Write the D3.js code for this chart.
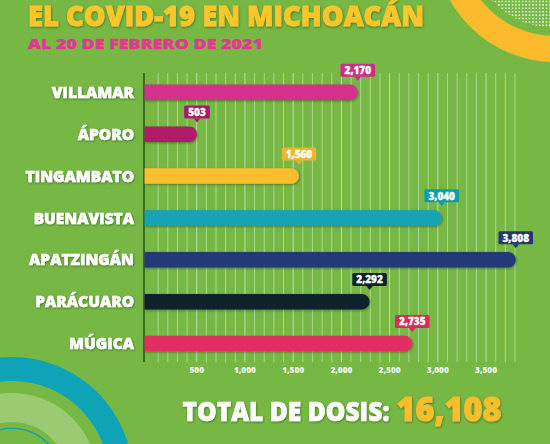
<!DOCTYPE html>
<html><head><meta charset="utf-8">
<script src="https://cdn.jsdelivr.net/npm/d3@7"></script>
<style>
html,body{margin:0;padding:0;background:#77b845;}
svg{display:block;}
text{font-family:"Open Sans","DejaVu Sans",sans-serif;font-weight:800;}
</style></head>
<body>
<svg id="c" width="550" height="444"></svg>
<script>
const categories = ["VILLAMAR","ÁPORO","TINGAMBATO","BUENAVISTA","APATZINGÁN","PARÁCUARO","MÚGICA"];
const values = [2170, 503, 1560, 3040, 3808, 2292, 2735];
const barColors = ["#d6308d","#b11b6b","#fbbf2e","#12a3b4","#233b78","#0d2329","#e22d62"];
const tickValues = [500, 1000, 1500, 2000, 2500, 3000, 3500];
const gridValues = d3.range(100, 3801, 100);
const titleText = "EL COVID-19 EN MICHOACÁN";
const subtitleText = "AL 20 DE FEBRERO DE 2021";
const totalLabel = "TOTAL DE DOSIS:";
const totalValue = 16108;

const W = 550, H = 444;
const svg = d3.select("#c");
const fmt = d3.format(",");

const defs = svg.append("defs");
const pat = defs.append("pattern").attr("id","dots").attr("patternUnits","userSpaceOnUse")
  .attr("width",3.4).attr("height",3.4);
pat.append("circle").attr("cx",1.7).attr("cy",1.7).attr("r",0.9).attr("fill","#ffffff").attr("opacity",0.9);
const pat2 = defs.append("pattern").attr("id","dots2").attr("patternUnits","userSpaceOnUse")
  .attr("width",2).attr("height",2);
pat2.append("circle").attr("cx",1).attr("cy",1).attr("r",0.7).attr("fill","#e4f2cf").attr("opacity",0.9);
const sh = defs.append("filter").attr("id","sh").attr("x","-10%").attr("y","-30%").attr("width","120%").attr("height","160%");
sh.append("feDropShadow").attr("dx",0.6).attr("dy",1).attr("stdDeviation",0.8).attr("flood-color","#1d3a10").attr("flood-opacity",0.55);

svg.append("rect").attr("width",W).attr("height",H).attr("fill","#77b845");

// decorations
const arc = d3.arc();
const ring = (cx, cy, r0, r1, fill) => svg.append("path").attr("transform",`translate(${cx},${cy})`)
  .attr("d", arc({innerRadius:r0, outerRadius:r1, startAngle:0, endAngle:2*Math.PI})).attr("fill",fill);
// top right
ring(555, -58, 0, 86, "url(#dots)");
ring(555, -58, 94, 120, "#fbbb2c");
// bottom left
ring(12, 478, 97, 121, "#0ea3b6");
ring(12, 478, 56, 85, "url(#dots2)");
ring(12, 478, 49, 50.5, "#0ea3b6");

// titles
svg.append("text").attr("x",28).attr("y",26).attr("font-size",28).attr("fill","#fcc62c")
  .attr("stroke","#fcc62c").attr("stroke-width",0.8)
  .attr("textLength",396).attr("lengthAdjust","spacingAndGlyphs").attr("filter","url(#sh)").text(titleText);
svg.append("text").attr("x",28).attr("y",49).attr("font-size",14.5).attr("fill","#e0398f")
  .attr("stroke","#e0398f").attr("stroke-width",0.4)
  .attr("textLength",235).attr("lengthAdjust","spacingAndGlyphs").text(subtitleText);

// scales
const x = d3.scaleLinear().domain([0, 3800]).range([148.5, 515]);
const y = d3.scalePoint().domain(categories).range([92.3, 343.5]);
const gridTop = 73, gridBottom = 362;
const axisX = x(0) - 4.5;

// grid
svg.append("g").selectAll("line").data(gridValues).join("line")
  .attr("x1",d=>x(d)).attr("x2",d=>x(d)).attr("y1",gridTop).attr("y2",gridBottom)
  .attr("stroke","#ffffff").attr("stroke-opacity",d=>d%500===0?0.6:0.45).attr("stroke-width",0.9);

// tick labels
svg.append("g").selectAll("text").data(tickValues).join("text")
  .attr("x",d=>x(d)).attr("y",372.5).attr("text-anchor","middle").attr("font-size",8.3)
  .attr("fill","#ffffff").attr("fill-opacity",0.92).text(d=>fmt(d));

// axis line
svg.append("line").attr("x1",axisX).attr("x2",axisX).attr("y1",gridTop).attr("y2",gridBottom)
  .attr("stroke","#1b3a12").attr("stroke-width",1.2);

// bars
const bh = 15.5, r = bh/2;
const rows = categories.map((c,i)=>({c, v:values[i], col:barColors[i]}));
svg.append("g").selectAll("path").data(rows).join("path")
  .attr("d", d => {
    const x0 = axisX + 0.6, x1 = x(d.v), yc = y(d.c);
    return `M${x0},${yc-r} L${x1-r},${yc-r} A${r},${r} 0 0 1 ${x1-r},${yc+r} L${x0},${yc+r} Z`;
  })
  .attr("fill", d=>d.col).attr("filter","url(#sh)");

// category labels
svg.append("g").selectAll("text").data(rows).join("text")
  .attr("x",134).attr("y",d=>y(d.c)+5.6).attr("text-anchor","end").attr("font-size",15.5)
  .attr("fill","#ffffff").attr("stroke","#ffffff").attr("stroke-width",0.5)
  .attr("filter","url(#sh)").text(d=>d.c);

// callouts
const cg = svg.append("g").selectAll("g").data(rows).join("g")
  .attr("transform", d=>`translate(${x(d.v)},${y(d.c)})`);
cg.each(function(d){
  const g = d3.select(this);
  const t = g.append("text").attr("x",0).attr("y",-18.2).attr("text-anchor","middle")
    .attr("font-size",10).attr("fill","#ffffff").attr("stroke","#ffffff").attr("stroke-width",0.3)
    .text(fmt(d.v));
  const w = t.node().getComputedTextLength() + 8;
  const bc = d3.color(d.col).darker(0.15).formatHex();
  g.insert("path","text").attr("d",`M${-3.2},-15.6 L0,-11.6 L3.2,-15.6 Z`).attr("fill",bc);
  g.insert("rect","text").attr("x",-w/2).attr("y",-28.6).attr("width",w).attr("height",13)
    .attr("rx",1.5).attr("fill",bc);
});

// total
svg.append("text").attr("x",182.5).attr("y",420.5).attr("font-size",27).attr("fill","#ffffff")
  .attr("stroke","#ffffff").attr("stroke-width",0.6)
  .attr("textLength",207).attr("lengthAdjust","spacingAndGlyphs").attr("filter","url(#sh)").text(totalLabel);
svg.append("text").attr("x",396.5).attr("y",420.5).attr("font-size",33.5).attr("fill","#fbbd2c")
  .attr("stroke","#fbbd2c").attr("stroke-width",1)
  .attr("textLength",105).attr("lengthAdjust","spacingAndGlyphs").attr("filter","url(#sh)").text(fmt(totalValue));
</script>
</body></html>
